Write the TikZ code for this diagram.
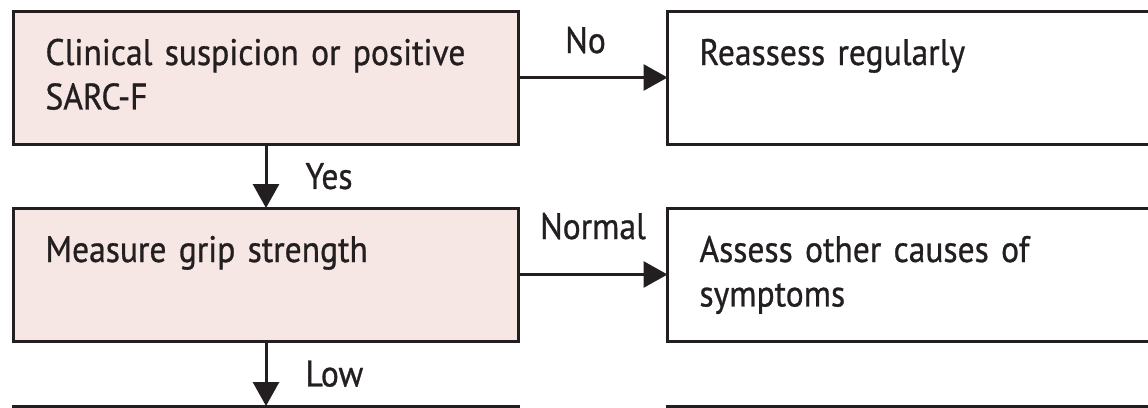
\documentclass[tikz,border=0pt]{standalone}
\usepackage{fontspec}
\setmainfont[FakeBold=0.8,FakeStretch=0.91]{PT Sans}
\usetikzlibrary{positioning,arrows.meta}

\definecolor{boxpink}{RGB}{246,230,228}
\definecolor{inkdark}{RGB}{35,31,32}

\tikzset{
  stepbox/.style={draw=inkdark, line width=0.06cm, outer sep=0pt,
    inner xsep=0.64cm, inner ysep=0pt, text width=8.82cm, align=left,
    text height=1.08cm, text depth=1.58cm, text=inkdark,
    font=\fontsize{21}{25.3}\selectfont},
  flow/.style={draw=inkdark, line width=0.06cm,
    -{Triangle[length=0.48cm,width=0.52cm]}},
  answer/.style={inner sep=0pt, text depth=0pt, text=inkdark,
    font=\fontsize{21}{25.3}\selectfont}
}

\begin{document}
\begin{tikzpicture}

\useasboundingbox (0,0) rectangle (22.96,-8.14);
\clip (0,0) rectangle (22.96,-8.14);

%\draw(0,0) grid (23,-8);

% left column: the questions
\node[stepbox, fill=boxpink, anchor=north west] (suspect) at (0.27,-0.22)
  {Clinical suspicion or positive\\SARC-F};
\node[stepbox, fill=boxpink, below=1.28cm of suspect] (grip)
  {Measure grip strength};
\node[stepbox, fill=boxpink, below=1.3cm of grip] (nextleft) {};

% right column
\node[stepbox, right=2.98cm of suspect] (reassess) {Reassess regularly};
\node[stepbox, right=2.98cm of grip] (othercause)
  {Assess other causes of\\symptoms};
\node[stepbox, right=2.98cm of nextleft] (nextright) {};

\draw[flow] (suspect) -- (reassess) node[answer, pos=0.45, above=0.46cm]{No};
\draw[flow] (suspect) -- (grip) node[answer, midway, right=0.76cm]{Yes};
\draw[flow] (grip) -- (othercause) node[answer, midway, above=0.68cm]{Normal};
\draw[flow] (grip) -- (nextleft) node[answer, midway, right=0.76cm]{Low};

\end{tikzpicture}
\end{document}
